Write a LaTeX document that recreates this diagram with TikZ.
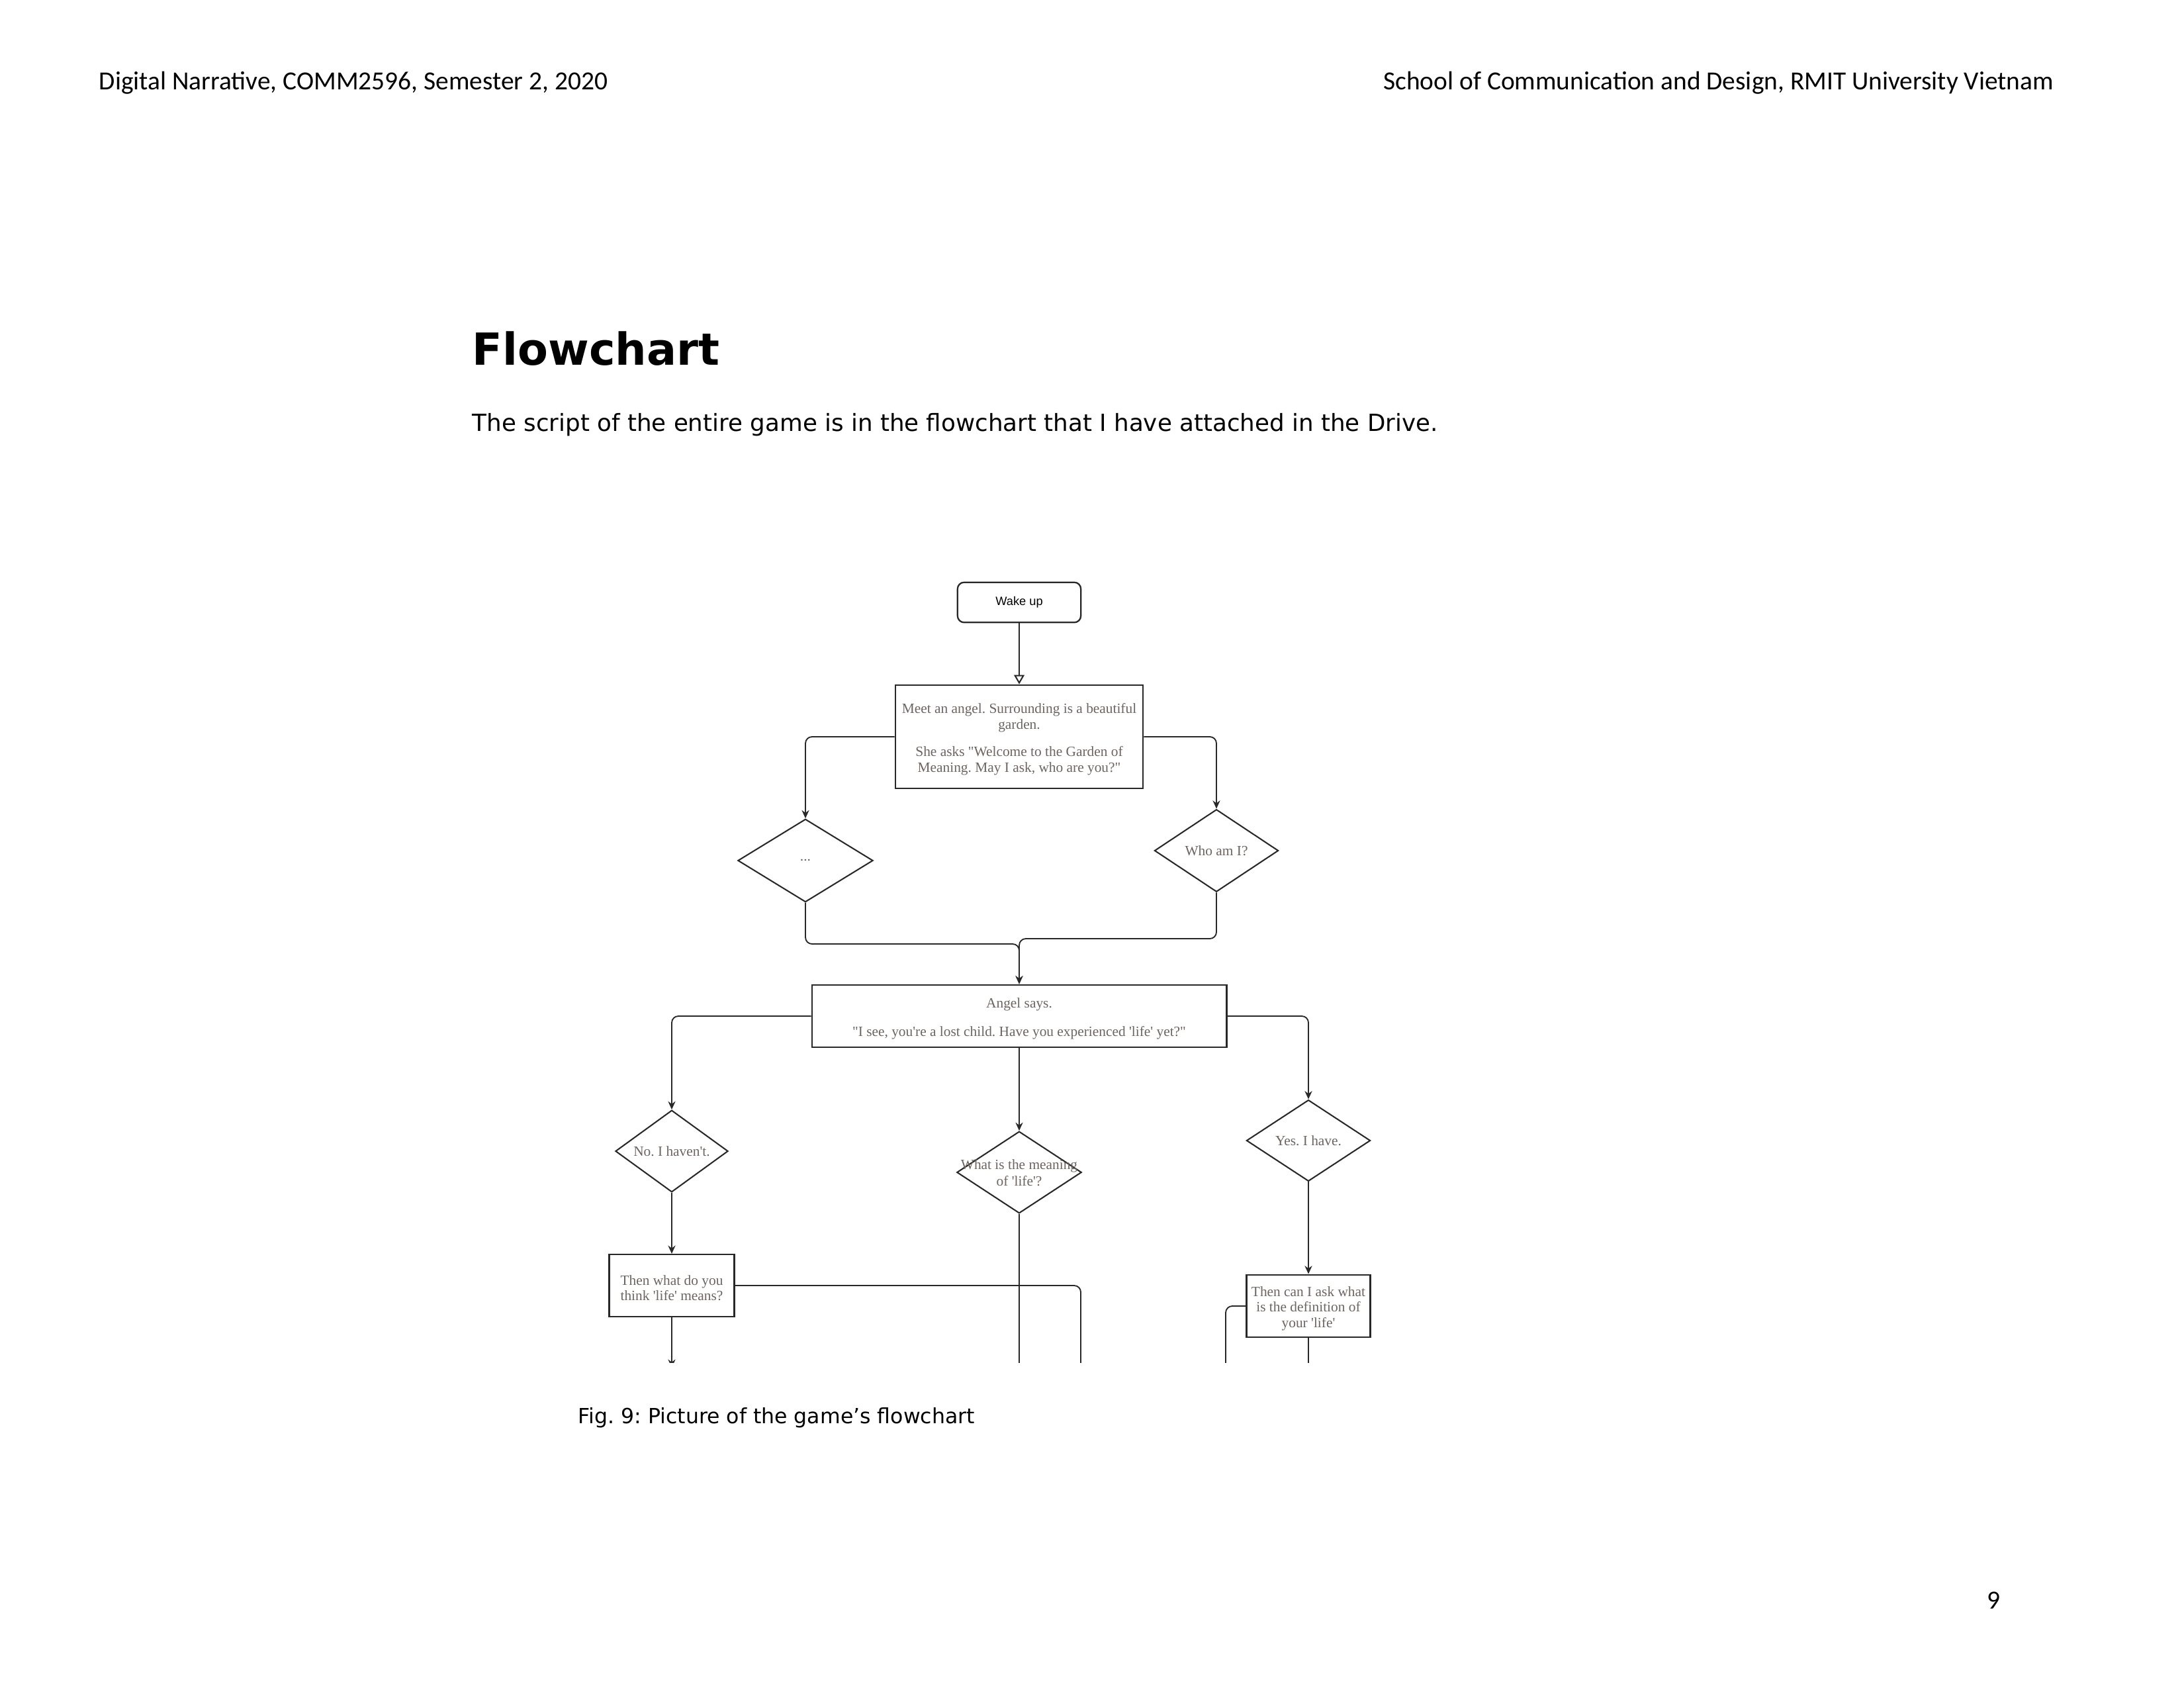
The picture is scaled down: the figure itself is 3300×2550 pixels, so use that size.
\documentclass[tikz,border=0pt]{standalone}
\usepackage{fontspec}
\newfontfamily\hdrfont{Carlito}
\newfontfamily\verdfont{DejaVu Sans}
\newfontfamily\arialfont{Liberation Sans}
\newfontfamily\fcserif{Liberation Serif}
\usetikzlibrary{shapes.geometric, arrows.meta}
\definecolor{fctext}{RGB}{108,100,96}
\definecolor{fcline}{RGB}{40,40,40}
\newcommand\fcfont{\fcserif\fontsize{5.15}{5.7}\selectfont}
\newcommand\lowstrut{\rule{0pt}{5.4pt}}
\tikzset{
  fcbox/.style={draw=fcline, line width=0.55pt, rectangle, inner sep=0pt, font=\fcfont, text=fctext, align=center},
  dia/.style={draw=fcline, line width=0.5pt, diamond, inner sep=0pt, font=\fcfont, text=fctext, align=center},
  arr/.style={draw=fcline, line width=0.45pt, rounded corners=2.4pt, -{Stealth[length=3pt,width=2.7pt,inset=1pt]}},
  ln/.style={draw=fcline, line width=0.45pt, rounded corners=2.4pt},
  hdr/.style={font=\hdrfont\fontsize{9.5}{11}\selectfont, inner sep=0pt},
}
\begin{document}
\frenchspacing
\begin{tikzpicture}[x=0.00846667cm, y=-0.00846667cm]
\useasboundingbox (0,0) rectangle (3300,2550);
% page text
\node[hdr, anchor=base west] (hl) at (149,136) {Digital Narrative, COMM2596, Semester 2, 2020};
\node[hdr, anchor=base east] (hr) at (3104,136) {School of Communication and Design, RMIT University Vietnam};
\node[anchor=base west, inner sep=0pt, font=\verdfont\bfseries\fontsize{16.1}{18}\selectfont] (title) at (713,551) {Flowchart};
\node[anchor=base west, inner sep=0pt, font=\verdfont\fontsize{8.6}{10}\selectfont] (body) at (713,651) {The script of the entire game is in the flowchart that I have attached in the Drive.};
\node[anchor=base west, inner sep=0pt, font=\verdfont\fontsize{7.6}{9}\selectfont] (cap) at (873,2150) {Fig. 9: Picture of the game’s flowchart};
\node[hdr, anchor=base] (pg) at (3012,2430) {9};
% flowchart
\begin{scope}
\clip (880,850) rectangle (2200,2058);
\node[draw=fcline, line width=0.55pt, rounded corners=2.4pt, minimum width=44.9pt, minimum height=14.6pt, inner sep=0pt, font=\arialfont\fontsize{4.4}{5}\selectfont] (wake) at (1540,910) {Wake up};
\node[fcbox, minimum width=90.2pt, minimum height=37.7pt] (meet) at (1540,1113) {\lowstrut Meet an angel. Surrounding is a beautiful\\garden.\\[4.2pt]She asks "Welcome to the Garden of\\Meaning. May I ask, who are you?"};
\node[dia, minimum width=49.2pt, minimum height=30.2pt] (dots) at (1217,1300) {\makebox[0pt]{...}};
\node[dia, minimum width=45.1pt, minimum height=30pt] (who) at (1838,1285) {\makebox[0pt]{Who am I?}};
\node[fcbox, minimum width=151pt, minimum height=22.8pt] (angel) at (1540,1535) {\lowstrut Angel says.\\[4.6pt]"I see, you're a lost child. Have you experienced 'life' yet?"};
\node[dia, minimum width=41pt, minimum height=29.8pt] (no) at (1015,1739) {\makebox[0pt]{No. I haven't.}};
\node[dia, minimum width=45.4pt, minimum height=29.8pt] (what) at (1540,1771) {\makebox[0pt]{\begin{tabular}{@{}c@{}}\lowstrut What is the meaning\\[0.4pt]of 'life'?\end{tabular}}};
\node[dia, minimum width=45.1pt, minimum height=29.6pt] (yes) at (1977,1723) {\makebox[0pt]{Yes. I have.}};
\node[fcbox, minimum width=45.6pt, minimum height=22.6pt] (thenwhat) at (1015,1942) {\lowstrut Then what do you\\think 'life' means?};
\node[fcbox, minimum width=45.1pt, minimum height=22.8pt] (thencan) at (1977,1973) {\lowstrut Then can I ask what\\is the definition of\\your 'life'};
\coordinate (j1) at (1540,1426);
\coordinate (j2) at (1540,1418);
\coordinate (e1) at (1015,2066);
\coordinate (e2) at (1540,2070);
\coordinate (e3) at (1633,2070);
\coordinate (e4) at (1852,2070);
\coordinate (e5) at (1977,2070);
\draw[draw=fcline, line width=0.5pt, -{Triangle[open,length=3.4pt,width=3.8pt]}] (wake) -- (meet);
\draw[arr] (meet.west) -| (dots.north);
\draw[arr] (meet.east) -| (who.north);
\draw[arr] (dots.south) |- (j1) -- (angel.north);
\draw[arr] (who.south) |- (j2) -- (angel.north);
\draw[arr] (angel.west) -| (no.north);
\draw[arr] (angel.south) -- (what.north);
\draw[arr] (angel.east) -| (yes.north);
\draw[arr] (no.south) -- (thenwhat.north);
\draw[arr] (yes.south) -- (thencan.north);
\draw[arr] (thenwhat.south) -- (e1);
\draw[ln] (what.south) -- (e2);
\draw[ln] (thenwhat.east) -| (e3);
\draw[ln] (thencan.west) -| (e4);
\draw[ln] (thencan.south) -- (e5);
\end{scope}
\end{tikzpicture}
\end{document}
